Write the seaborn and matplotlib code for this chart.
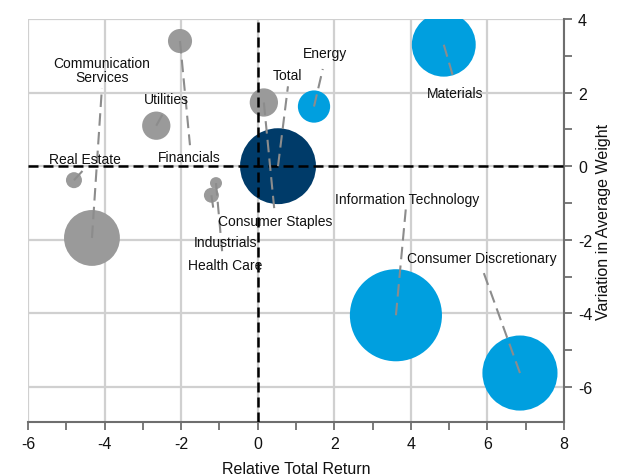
import matplotlib
matplotlib.use("Agg")
import matplotlib.pyplot as plt
import seaborn as sns
import pandas as pd
import numpy as np

sectors = ["Communication Services", "Utilities", "Financials", "Real Estate",
           "Industrials", "Health Care", "Consumer Staples", "Total", "Energy",
           "Materials", "Information Technology", "Consumer Discretionary"]
rel_return = [-4.33, -2.65, -2.03, -4.80, -1.21, -1.09, 0.16, 0.53, 1.47, 4.86, 3.61, 6.85]
weight_var = [-1.95, 1.10, 3.40, -0.38, -0.79, -0.46, 1.73, 0.00, 1.62, 3.30, -4.05, -5.62]
bubble = [7.8, 2.0, 1.45, 0.64, 0.56, 0.36, 2.0, 14.4, 2.6, 10.2, 21.2, 14.1]
group = ["other", "other", "other", "other", "other", "other", "other", "total",
         "highlight", "highlight", "highlight", "highlight"]
label_text = ["Communication\nServices", "Utilities", "Financials", "Real Estate",
              "Industrials", "Health Care", "Consumer Staples", "Total", "Energy",
              "Materials", "Information Technology", "Consumer Discretionary"]
label_x = [-4.07, -2.39, -1.79, -4.51, -0.85, -0.85, 0.45, 0.79, 1.76, 5.15, 3.89, 5.86]
label_y = [2.60, 1.82, 0.25, 0.19, -2.06, -2.69, -1.49, 2.48, 3.07, 1.99, -0.89, -2.50]
leader_x = [-4.07, -2.47, -1.77, -4.56, -1.15, -0.93, 0.43, 0.79, 1.70, 5.13, 3.87, 5.88]
leader_y = [2.12, 1.44, 0.57, -0.11, -1.22, -2.31, -1.14, 2.17, 2.64, 2.34, -1.14, -2.83]

df = pd.DataFrame({"sector": sectors, "x": rel_return, "y": weight_var,
                   "bubble": bubble, "group": group})

palette = {"other": "#9a9a9a", "total": "#003b69", "highlight": "#009fdf"}

sns.set_style("white")
plt.rcParams["font.family"] = ["Liberation Sans", "DejaVu Sans"]

fig = plt.figure(figsize=(6.27, 4.77), dpi=100)
ax = fig.add_axes([0.0447, 0.1132, 0.8548, 0.845])

# bubble area in pt^2 ~ 207.36 * bubble value
sns.scatterplot(data=df, x="x", y="y", size="bubble", hue="group", palette=palette,
                sizes=(0, 207.36 * 25), size_norm=(0, 25), linewidth=0, alpha=1,
                legend=False, ax=ax, zorder=3)

ax.set_xlim(-6, 8)
ax.set_ylim(-6.95, 4)
ax.set_xticks(np.arange(-6, 9, 2))
ax.set_xticks(np.arange(-5, 8, 2), minor=True)
ax.set_yticks(np.arange(-6, 5, 2))
ax.set_yticks(np.arange(-5, 4, 2), minor=True)
ax.grid(True, which="major", color="#d0d0d0", linewidth=1.6, zorder=0)
ax.set_axisbelow(True)

ax.yaxis.tick_right()
ax.yaxis.set_label_position("right")
for s in ["left", "top"]:
    ax.spines[s].set_visible(False)
for s in ["right", "bottom"]:
    ax.spines[s].set_color("#6e6e6e")
    ax.spines[s].set_linewidth(1.5)
ax.tick_params(which="both", direction="out", length=6, width=1.3, color="#6e6e6e",
               labelsize=11.5, labelcolor="#111111")
ax.tick_params(axis="y", which="both", right=True, left=False, pad=4)
ax.tick_params(axis="x", which="both", bottom=True, pad=4)
ax.set_xticklabels([str(v) for v in range(-6, 9, 2)])
ax.set_yticklabels([str(v) for v in range(-6, 5, 2)])

ax.set_xlabel("Relative Total Return", fontsize=11.5, color="#111111", labelpad=7)
ax.set_ylabel("Variation in Average Weight", fontsize=11.5, color="#111111", labelpad=3)

ax.axvline(0, color="black", linewidth=1.8, dashes=(4, 2), zorder=4)
ax.axhline(0, color="black", linewidth=1.8, dashes=(4, 2), zorder=4)

for i in range(len(sectors)):
    ax.plot([rel_return[i], leader_x[i]], [weight_var[i], leader_y[i]],
            color="#8c8c8c", linewidth=1.5, dashes=(6, 3), zorder=5,
            solid_capstyle="butt", dash_capstyle="butt")
    ax.text(label_x[i], label_y[i], label_text[i], fontsize=10, ha="center",
            va="center", color="#111111", zorder=6, linespacing=1.0)

fig.savefig("out.png", dpi=100)
